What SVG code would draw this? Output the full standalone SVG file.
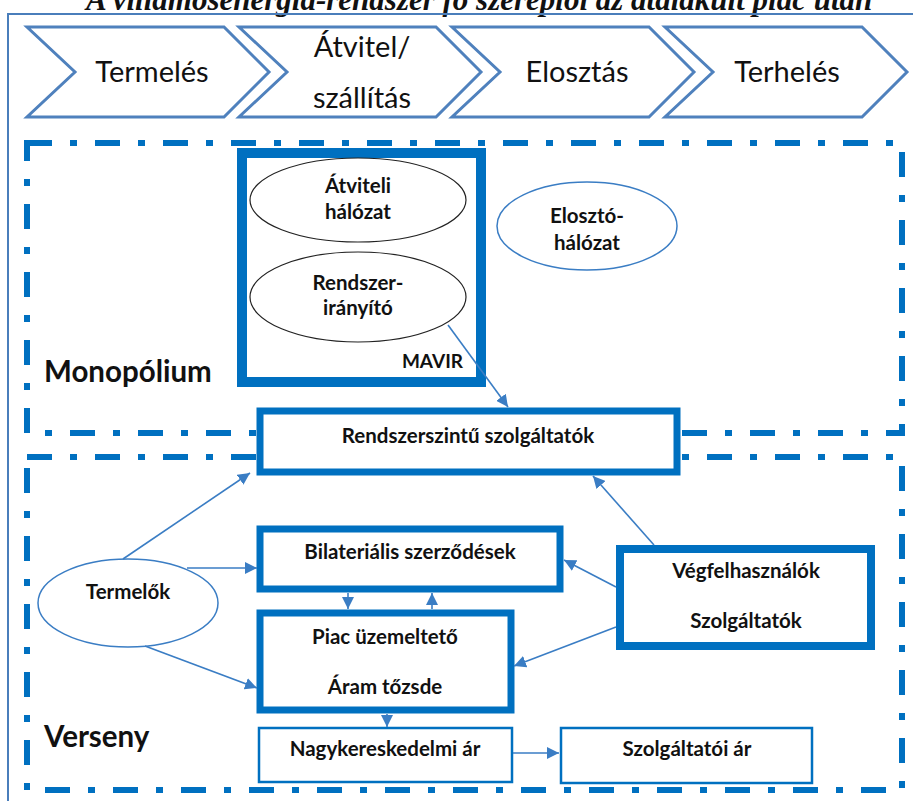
<svg xmlns="http://www.w3.org/2000/svg" width="913" height="801" viewBox="0 0 913 801">
  <style>
    .lbl { font-family: Lato, "Open Sans", "Liberation Sans", sans-serif; fill: #111; }
    .chev-t { font-size: 29px; text-anchor: middle; }
    .node-t { font-size: 20.5px; font-weight: bold; text-anchor: middle; }
    .zone-t { font-size: 29.5px; font-weight: bold; }
    .chev { fill: #fff; stroke: #4f81bd; stroke-width: 3; stroke-linejoin: miter; }
    .zone { fill: none; stroke: #0070c0; stroke-width: 6; stroke-dasharray: 25 18 7 18; }
    .thick { fill: #fff; stroke: #0070c0; }
    .thin { fill: #fff; stroke: #0070c0; stroke-width: 2.5; }
    .oval-k { fill: #fff; stroke: #222; stroke-width: 1.2; }
    .oval-b { fill: #fff; stroke: #3a7dc4; stroke-width: 1.5; }
    .conn { fill: none; stroke: #3a7dc4; stroke-width: 1.6; marker-end: url(#ah); }
  </style>
  <defs>
    <marker id="ah" viewBox="0 0 10 10" refX="10" refY="5" markerWidth="7.5" markerHeight="7.5" markerUnits="strokeWidth" orient="auto">
      <path d="M0,0 L10,5 L0,10 z" fill="#3a7dc4"/>
    </marker>
  </defs>

  <rect width="913" height="801" fill="#fff"/>

  <!-- heading, running off the top edge of the page -->
  <text x="86" y="10" font-family="'Liberation Serif', serif" font-style="italic" font-weight="bold" font-size="31" fill="#111">A villamosenergia-rendszer fő szereplői az átalakult piac után</text>

  <!-- page frame -->
  <rect x="8" y="14" width="920" height="790" fill="none" stroke="#4a7ebb" stroke-width="2"/>

  <!-- value chain -->
  <g id="chevron-termeles">
    <polygon class="chev" points="27,27 224,27 269,72 224,117 27,117 75,72"/>
    <text class="lbl chev-t" x="152" y="82">Termelés</text>
  </g>
  <g id="chevron-atvitel">
    <polygon class="chev" points="239,27 436,27 481,72 436,117 239,117 287,72"/>
    <text class="lbl chev-t" x="362" y="57">Átvitel/</text>
    <text class="lbl chev-t" x="362" y="108">szállítás</text>
  </g>
  <g id="chevron-elosztas">
    <polygon class="chev" points="452,27 649,27 694,72 649,117 452,117 500,72"/>
    <text class="lbl chev-t" x="577" y="82">Elosztás</text>
  </g>
  <g id="chevron-terheles">
    <polygon class="chev" points="665,27 862,27 907,72 862,117 665,117 713,72"/>
    <text class="lbl chev-t" x="787" y="82">Terhelés</text>
  </g>

  <!-- zones -->
  <g id="zone-monopolium">
    <rect class="zone" x="27" y="143" width="875" height="290"/>
    <text class="lbl zone-t" x="44" y="382">Monopólium</text>
  </g>
  <g id="zone-verseny">
    <rect class="zone" x="27" y="457" width="875" height="333"/>
    <text class="lbl zone-t" x="44" y="747">Verseny</text>
  </g>

  <!-- nodes -->
  <g id="mavir">
    <rect class="thick" x="242" y="153" width="239" height="229" stroke-width="10"/>
    <text class="lbl" x="463" y="368" font-size="19" font-weight="bold" text-anchor="end">MAVIR</text>
  </g>
  <g id="atviteli-halozat">
    <ellipse class="oval-k" cx="358" cy="200" rx="108" ry="42"/>
    <text class="lbl node-t" x="358" y="193">Átviteli</text>
    <text class="lbl node-t" x="358" y="219">hálózat</text>
  </g>
  <g id="rendszeriranyito">
    <ellipse class="oval-k" cx="358" cy="297" rx="108" ry="45"/>
    <text class="lbl node-t" x="358" y="290">Rendszer-</text>
    <text class="lbl node-t" x="358" y="315">irányító</text>
  </g>
  <g id="eloszto-halozat">
    <ellipse class="oval-b" cx="587" cy="226" rx="90" ry="44"/>
    <text class="lbl node-t" x="587" y="223">Elosztó-</text>
    <text class="lbl node-t" x="587" y="250">hálózat</text>
  </g>
  <g id="rendszerszintu">
    <rect class="thick" x="260" y="411" width="417" height="61" stroke-width="7"/>
    <text class="lbl node-t" x="468" y="443">Rendszerszintű szolgáltatók</text>
  </g>
  <g id="termelok">
    <ellipse class="oval-b" cx="128" cy="603" rx="90" ry="44"/>
    <text class="lbl node-t" x="128" y="599">Termelők</text>
  </g>
  <g id="bilateralis">
    <rect class="thick" x="260" y="529" width="300" height="60" stroke-width="7"/>
    <text class="lbl node-t" x="410" y="559">Bilateriális szerződések</text>
  </g>
  <g id="piac">
    <rect class="thick" x="260" y="613" width="251" height="97" stroke-width="7"/>
    <text class="lbl node-t" x="385" y="644">Piac üzemeltető</text>
    <text class="lbl node-t" x="385" y="694">Áram tőzsde</text>
  </g>
  <g id="vegfelhasznalok">
    <rect class="thick" x="620" y="549" width="251" height="97" stroke-width="8"/>
    <text class="lbl node-t" x="746" y="578">Végfelhasználók</text>
    <text class="lbl node-t" x="746" y="628">Szolgáltatók</text>
  </g>
  <g id="nagykereskedelmi">
    <rect class="thin" x="259" y="728" width="253" height="54"/>
    <text class="lbl node-t" x="385" y="756">Nagykereskedelmi ár</text>
  </g>
  <g id="szolgaltatoi">
    <rect class="thin" x="561" y="728" width="251" height="55"/>
    <text class="lbl node-t" x="687" y="756">Szolgáltatói ár</text>
  </g>

  <!-- connectors -->
  <g id="connectors">
    <line class="conn" x1="448" y1="325" x2="508" y2="407"/>
    <line class="conn" x1="123" y1="559" x2="250" y2="473"/>
    <line class="conn" x1="187" y1="568" x2="257" y2="568"/>
    <line class="conn" x1="145" y1="646" x2="257" y2="688"/>
    <line class="conn" x1="348" y1="593" x2="348" y2="609"/>
    <line class="conn" x1="432" y1="609" x2="432" y2="593"/>
    <line class="conn" x1="387" y1="714" x2="387" y2="727"/>
    <line class="conn" x1="513" y1="753" x2="559" y2="753"/>
    <line class="conn" x1="654" y1="545" x2="593" y2="476"/>
    <line class="conn" x1="616" y1="587" x2="564" y2="560"/>
    <line class="conn" x1="616" y1="627" x2="514" y2="666"/>
  </g>
</svg>
